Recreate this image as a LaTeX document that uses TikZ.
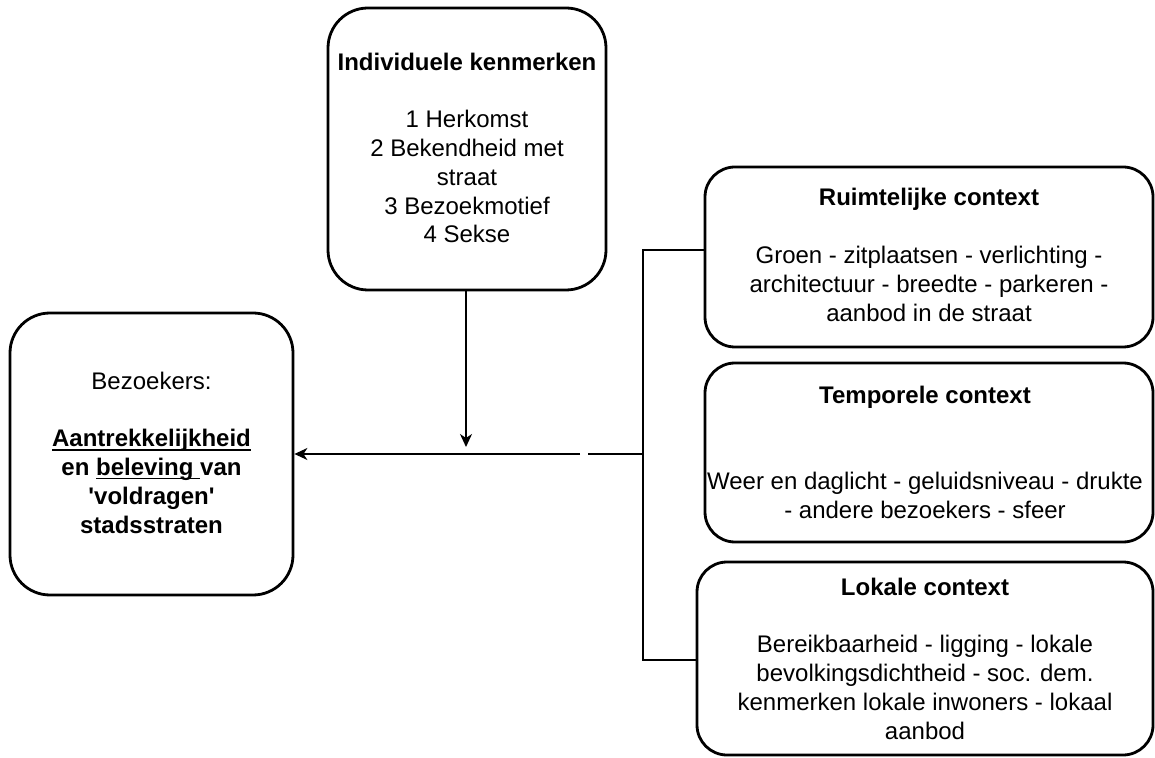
\documentclass[tikz,border=0pt]{standalone}
\usepackage{fontspec}
\setmainfont{Liberation Sans}
\usetikzlibrary{arrows.meta}
\newcommand\myul[1]{\setbox0\hbox{#1}\rlap{\rule[-2pt]{\wd0}{0.7pt}}\box0}
\begin{document}
\begin{tikzpicture}[x=0.5pt,y=-0.5pt,
  box/.style={draw=black, line width=1.4pt, rounded corners=#1, fill=white, inner sep=0pt},
  box/.default=15pt,
  txt/.style={align=center, font=\fontsize{12}{14.4}\selectfont, inner sep=0pt},
  arr/.style={draw=black, line width=0.75pt, -{Stealth[length=6.5pt,width=6pt,inset=2pt]}},
  brk/.style={draw=black, line width=1.4pt}]
\useasboundingbox (0,0) rectangle (1155,758);
% boxes
\node[box=20pt, minimum width=139pt, minimum height=141pt] (ind) at (467,149) {};
\node[box=20pt, minimum width=141.5pt, minimum height=141pt] (bez) at (151.5,454) {};
\node[box, minimum width=224pt, minimum height=90pt] (rui) at (929,257) {};
\node[box, minimum width=224pt, minimum height=89.5pt] (tem) at (929,452.5) {};
\node[box, minimum width=228pt, minimum height=96.5pt] (lok) at (925,658.5) {};
% texts
\node[txt] (indt) at (467,148) {\textbf{Individuele kenmerken}\\[14.4pt]1 Herkomst\\2 Bekendheid met\\straat\\3 Bezoekmotief\\4 Sekse};
\node[txt] (bezt) at (151.5,452.5) {Bezoekers:\\[14.4pt]\textbf{\myul{Aantrekkelijkheid}}\\\textbf{en \myul{beleving\ }van}\\\textbf{\textquotesingle voldragen\textquotesingle}\\\textbf{stadsstraten}};
\node[txt] (ruit) at (929,255) {\textbf{Ruimtelijke context}\\[14.4pt]Groen - zitplaatsen - verlichting -\\architectuur - breedte - parkeren -\\aanbod in de straat};
\node[txt] (temt) at (925,452.5) {\textbf{Temporele context}\\[28.8pt]Weer en daglicht - geluidsniveau - drukte\\- andere bezoekers - sfeer};
\node[txt] (lokt) at (925,658.5) {\textbf{Lokale context}\\[14.4pt]Bereikbaarheid - ligging - lokale\\bevolkingsdichtheid - soc. dem.\\kenmerken lokale inwoners - lokaal\\aanbod};
% bracket
\coordinate (bt) at (643,250);
\coordinate (bb) at (643,660);
\coordinate (bm) at (643,454);
\coordinate (bl) at (588,454);
\coordinate (as) at (580,454);
\coordinate (va) at (466,447);
\draw[brk] (bt -| rui.west) -- (bt) -- (bb) -- (bb -| lok.west);
\draw[brk] (bm) -- (bl);
% arrows
\draw[arr] (as) -- (as -| bez.east);
\draw[arr] (ind.south -| va) -- (va);
\end{tikzpicture}
\end{document}
